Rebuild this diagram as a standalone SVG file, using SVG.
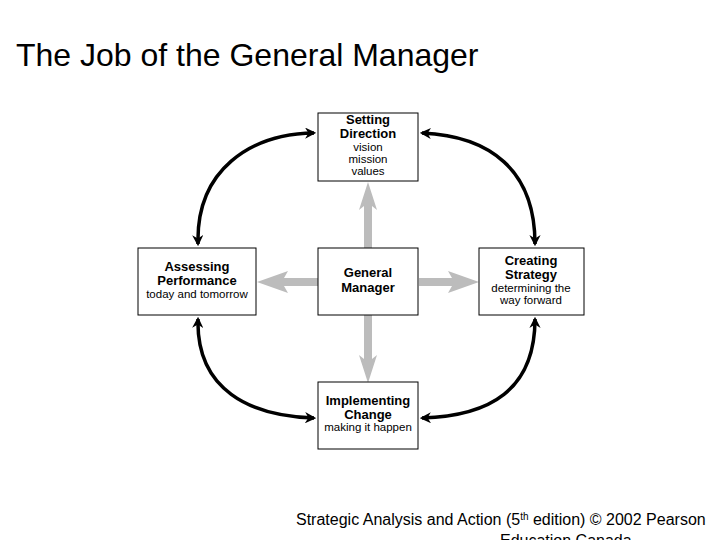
<svg xmlns="http://www.w3.org/2000/svg" width="720" height="540" viewBox="0 0 720 540">
<style>
.box{fill:#fff;stroke:#000;stroke-width:1}
.b{font-family:"Liberation Sans",Arial,sans-serif;font-size:13px;font-weight:bold;text-anchor:middle}
.s{font-family:"Liberation Sans",Arial,sans-serif;font-size:11.5px;text-anchor:middle}
.arc{fill:none;stroke:#000;stroke-width:3.5;marker-start:url(#ah);marker-end:url(#ah)}
.g{fill:#bcbcbc}
</style>
<defs>
<marker id="ah" viewBox="0 0 10 10" refX="8" refY="5" markerWidth="3.2" markerHeight="3.2" orient="auto-start-reverse"><path d="M0,0 L10,5 L0,10 L3,5 z" fill="#000"/></marker>
</defs>
<rect width="720" height="540" fill="#fff"/>
<text x="16" y="66" font-family="Liberation Sans,Arial,sans-serif" font-size="32">The Job of the General Manager</text>
<g id="connectors">
<path class="arc" d="M198,244 C196,170 250,134 314,133"/>
<path class="arc" d="M422,133 C490,136 535,170 535,244"/>
<path class="arc" d="M198,319 C196,390 250,416 314,418"/>
<path class="arc" d="M422,418 C490,416 535,390 535,319"/>
<g class="g">
<path d="M364,248 V206 L359,210 L368,182 L377,210 L372,206 V248 z"/>
<path d="M364,315 V359 L359,355 L368,383 L377,355 L372,359 V315 z"/>
<path d="M318,278 H284 L288,271 L257,282 L288,293 L284,286 H318 z"/>
<path d="M419,278 H452 L448,271 L479,282 L448,293 L452,286 H419 z"/>
</g>
</g>
<g id="setting"><rect class="box" x="318" y="113" width="100" height="68"/>
<text class="b" x="368" y="124">Setting</text><text class="b" x="368" y="138">Direction</text>
<text class="s" x="368" y="151">vision</text><text class="s" x="368" y="163">mission</text><text class="s" x="368" y="175">values</text></g>
<g id="assessing"><rect class="box" x="138" y="248" width="118" height="67"/>
<text class="b" x="197" y="271">Assessing</text><text class="b" x="197" y="285">Performance</text>
<text class="s" x="197" y="298">today and tomorrow</text></g>
<g id="gm"><rect class="box" x="318" y="248" width="100" height="67"/>
<text class="b" x="368" y="277">General</text><text class="b" x="368" y="292">Manager</text></g>
<g id="creating"><rect class="box" x="479" y="248" width="105" height="67"/>
<text class="b" x="531" y="265">Creating</text><text class="b" x="531" y="279">Strategy</text>
<text class="s" x="531" y="292">determining the</text><text class="s" x="531" y="304">way forward</text></g>
<g id="implementing"><rect class="box" x="318" y="382" width="100" height="67"/>
<text class="b" x="368" y="405">Implementing</text><text class="b" x="368" y="419">Change</text>
<text class="s" x="368" y="431">making it happen</text></g>
<text x="296" y="525" font-family="Liberation Sans,Arial,sans-serif" font-size="16">Strategic Analysis and Action (5<tspan font-size="10" dy="-5">th</tspan><tspan dy="5"> edition) © 2002 Pearson</tspan></text>
<text x="500" y="546" font-family="Liberation Sans,Arial,sans-serif" font-size="16">Education Canada</text>
</svg>
